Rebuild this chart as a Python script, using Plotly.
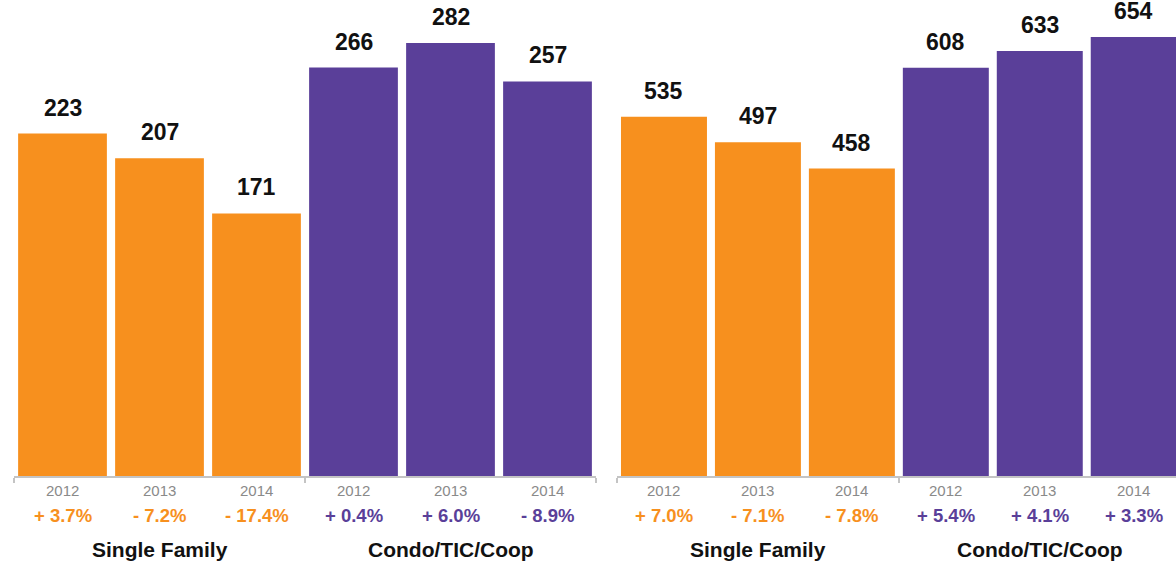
import plotly.graph_objects as go

W, H = 1176, 564

years = ["2012", "2013", "2014"]
groups = ["Single Family", "Condo/TIC/Coop"]

left_sf = [223, 207, 171]
left_condo = [266, 282, 257]
left_sf_pct = ["+ 3.7%", "- 7.2%", "- 17.4%"]
left_condo_pct = ["+ 0.4%", "+ 6.0%", "- 8.9%"]

right_sf = [535, 497, 458]
right_condo = [608, 633, 654]
right_sf_pct = ["+ 7.0%", "- 7.1%", "- 7.8%"]
right_condo_pct = ["+ 5.4%", "+ 4.1%", "+ 3.3%"]

ORANGE = "#F7901E"
PURPLE = "#5A3F99"
AXIS = "#c4c4c4"
FONT = "Liberation Sans, Arial, Helvetica, sans-serif"


def py(pix):
    return 1 - pix / H


fig = go.Figure()
annotations = []

panels = [
    ("x", "y", left_sf, left_condo, left_sf_pct, left_condo_pct),
    ("x2", "y2", right_sf, right_condo, right_sf_pct, right_condo_pct),
]

for xa, ya, sf, condo, sfp, cp in panels:
    xs_sf = [0, 1, 2]
    xs_c = [3, 4, 5]
    fig.add_trace(go.Bar(x=xs_sf, y=sf, marker_color=ORANGE, marker_line_width=0, xaxis=xa, yaxis=ya,
                         hoverinfo="skip", showlegend=False))
    fig.add_trace(go.Bar(x=xs_c, y=condo, marker_color=PURPLE, marker_line_width=0, xaxis=xa, yaxis=ya,
                         hoverinfo="skip", showlegend=False))
    for xs, vals, pcts, col in [(xs_sf, sf, sfp, ORANGE), (xs_c, condo, cp, PURPLE)]:
        for i, (xv, v, p) in enumerate(zip(xs, vals, pcts)):
            annotations.append(dict(x=xv, y=v, xref=xa, yref=ya, text="<b>" + str(v) + "</b>",
                                    showarrow=False, yanchor="bottom", yshift=11,
                                    font=dict(family=FONT, size=23, color="#111111")))
            annotations.append(dict(x=xv, y=py(490), xref=xa, yref="paper", text=years[i],
                                    showarrow=False, yanchor="middle",
                                    font=dict(family=FONT, size=15, color="#8a8a8a")))
            annotations.append(dict(x=xv, y=py(515), xref=xa, yref="paper", text="<b>" + p + "</b>",
                                    showarrow=False, yanchor="middle",
                                    font=dict(family=FONT, size=18.5, color=col)))
    for gi, g in enumerate(groups):
        annotations.append(dict(x=1 + 3 * gi, y=py(549), xref=xa, yref="paper", text="<b>" + g + "</b>",
                                showarrow=False, yanchor="middle",
                                font=dict(family=FONT, size=21, color="#111111")))

axis_common = dict(showgrid=False, zeroline=False, showline=True, linecolor=AXIS, linewidth=2,
                   ticks="outside", ticklen=5, tickwidth=2, tickcolor=AXIS,
                   tickvals=[-0.5, 2.5, 5.5], showticklabels=False, fixedrange=True)

fig.update_layout(
    width=W, height=H,
    margin=dict(l=0, r=0, t=0, b=0),
    paper_bgcolor="white", plot_bgcolor="white",
    bargap=0.085,
    annotations=annotations,
    xaxis=dict(domain=[14 / W, 596 / W], range=[-0.5, 5.5], anchor="y", **axis_common),
    xaxis2=dict(domain=[617 / W, 1], range=[-0.5, 5.45], anchor="y2", **axis_common),
    yaxis=dict(domain=[py(476), 1], range=[0, 310], visible=False, fixedrange=True),
    yaxis2=dict(domain=[py(476), 1], range=[0, 709], visible=False, anchor="x2", fixedrange=True),
)

fig.write_html("out.html", config={"displayModeBar": False},
               post_script="document.body.style.margin='0';document.body.style.overflow='hidden';")
